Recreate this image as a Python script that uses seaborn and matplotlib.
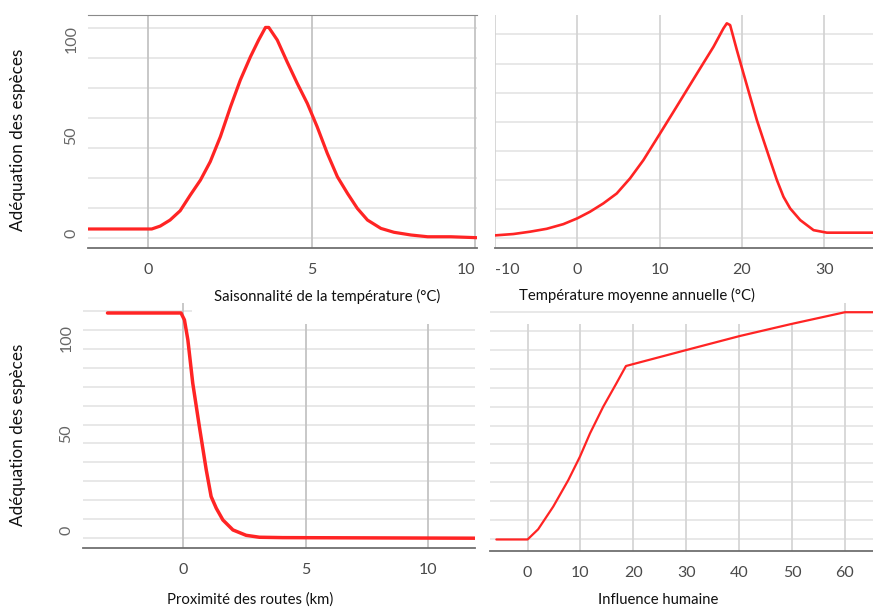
import numpy as np
import pandas as pd
import matplotlib
matplotlib.use("Agg")
import matplotlib.pyplot as plt
import seaborn as sns

# ---------------- data ----------------
ts_x = [-1.83, 0.11, 0.37, 0.67, 0.98, 1.29, 1.60, 1.90, 2.21, 2.52, 2.82, 3.13, 3.38, 3.59, 3.69,
        3.95, 4.25, 4.56, 4.87, 5.17, 5.48, 5.79, 6.10, 6.40, 6.71, 7.12, 7.52, 8.04, 8.55, 9.26, 10.08]
ts_y = [2.1, 2.1, 3.6, 6.7, 11.5, 19.6, 27.3, 36.8, 49.7, 65.1, 78.9, 90.9, 99.5, 106.0, 106.0,
        99.5, 88.3, 77.2, 66.8, 54.8, 41.1, 29.0, 20.4, 12.7, 6.7, 2.4, 0.4, -1.0, -1.9, -1.9, -2.4]

tm_x = [-10.0, -7.77, -5.75, -3.72, -1.7, 0.0, 1.54, 3.16, 4.78, 6.4, 8.02, 10.05, 11.67, 13.29,
        14.91, 16.53, 17.74, 18.15, 18.55, 19.37, 20.17, 20.98, 21.8, 22.6, 23.41, 24.23, 25.03,
        25.84, 27.06, 28.68, 30.3, 35.9]
tm_y = [-1.2, -0.5, 0.7, 2.2, 4.6, 7.6, 11.0, 15.3, 20.4, 28.2, 37.6, 51.4, 62.5, 73.7,
        84.9, 96.0, 105.5, 108.1, 107.2, 94.3, 82.3, 70.3, 58.2, 47.9, 37.6, 27.3, 18.7,
        12.7, 6.7, 1.5, 0.2, 0.2]

rd_x = [-3.1, -0.1, 0.04, 0.18, 0.38, 0.65, 0.93, 1.13, 1.34, 1.61, 2.02, 2.56, 3.1, 4.06, 11.9]
rd_y = [113.0, 113.0, 109.4, 99.0, 76.4, 53.8, 31.3, 17.4, 11.3, 5.2, 0.0, -2.8, -3.8, -4.0, -4.3]

hi_x = [-5.9, 0.0, 2.0, 4.85, 7.7, 9.9, 11.8, 14.3, 16.8, 18.6, 30.05, 40.1, 49.9, 60.0, 65.3]
hi_y = [-4.9, -4.9, 0.4, 12.2, 26.0, 38.2, 50.3, 64.2, 76.4, 85.4, 93.75, 101.0, 107.3, 113.4, 113.4]

ylabel_txt = "Adéquation des espèces"
xlabels = ["Saisonnalité de la température (°C)", "Température moyenne annuelle (°C)",
           "Proximité des routes (km)", "Influence humaine"]
xticks_ts = [0, 5, 10]
xticks_tm = [-10, 0, 10, 20, 30]
xticks_rd = [0, 5, 10]
xticks_hi = [0, 10, 20, 30, 40, 50, 60]
yticks = [0, 50, 100]

# ---------------- style ----------------
sns.set_style("white")
plt.rcParams['font.family'] = ['Lato', 'DejaVu Sans']
plt.rcParams['axes.unicode_minus'] = False

W, H = 873, 608
fig = plt.figure(figsize=(W / 100, H / 100), dpi=100)

RED = "#ff2424"
TICKC = "#4a4a4a"


def px_axes(l, t, r, b):
    return fig.add_axes([l / W, 1 - b / H, (r - l) / W, (b - t) / H])


def style(ax, xlim, ylim, vgrid, vcolor, hstart, hstep, hn, vtop=None):
    ax.set_xlim(*xlim)
    ax.set_ylim(*ylim)
    for s in ["left", "right", "top"]:
        ax.spines[s].set_visible(False)
    ax.spines["bottom"].set_color("#6f6f6f")
    ax.spines["bottom"].set_linewidth(1.3)
    hvals = [hstart + i * hstep for i in range(hn)]
    ax.hlines(hvals, xlim[0], xlim[1], color="#e2e2e2", lw=1.1, zorder=0)
    top = ylim[1] if vtop is None else vtop
    ax.vlines(vgrid, ylim[0], top, color=vcolor, lw=1.3, zorder=0.5)
    ax.grid(False)
    ax.set_xticks(vgrid)
    ax.set_xticklabels([str(v) for v in vgrid])
    ax.tick_params(axis="x", direction="inout", length=3, width=1.3, color="#333333",
                   labelsize=11.5, labelcolor=TICKC, pad=9)


def line(ax, xs, ys, lw):
    df = pd.DataFrame({"x": xs, "y": ys})
    sns.lineplot(data=df, x="x", y="y", ax=ax, color=RED, lw=lw, estimator=None,
                 sort=False, legend=False, zorder=3)
    ax.set_xlabel("")
    ax.set_ylabel("")


def yt(ax):
    ax.set_yticks(yticks)
    ax.set_yticklabels([str(v) for v in yticks], rotation=90, va="center")
    ax.tick_params(axis="y", length=0, labelsize=11.5, labelcolor="#666666", pad=7)


# top-left
ax1 = px_axes(88, 15, 477, 248)
line(ax1, ts_x, ts_y, 2.3)
style(ax1, (-1.84, 10.06), (-7.7, 112.4), xticks_ts, "#c4c4c4", -2.6, 15.46, 8)
ax1.spines["top"].set_visible(True)
ax1.spines["top"].set_color("#8a8a8a")
ax1.get_xticklabels()[-1].set_ha("right")
yt(ax1)

# top-right
ax2 = px_axes(495, 15, 873, 248)
line(ax2, tm_x, tm_y, 1.9)
style(ax2, (-10.0, 35.9), (-7.7, 112.4), xticks_tm, "#d4d4d4", -2.6, 15.0, 8)
ax2.get_xticklabels()[0].set_ha("left")
ax2.set_yticks([])

# bottom-left
ax3 = px_axes(83, 303, 475, 548)
line(ax3, rd_x, rd_y, 2.5)
style(ax3, (-4.1, 11.9), (-9.4, 118.2), xticks_rd, "#c4c4c4", -4.2, 9.85, 12, vtop=107.3)
ax3.vlines([0], 107.3, 118.2, color="#c4c4c4", lw=1.3, zorder=0.5)
ax3.hlines([114.0], -4.1, 0.35, color="#e2e2e2", lw=1.1, zorder=0)
yt(ax3)

# bottom-right
ax4 = px_axes(490, 303, 873, 551)
line(ax4, hi_x, hi_y, 1.6)
style(ax4, (-7.1, 65.3), (-10.9, 118.2), xticks_hi, "#d6d6d6", -4.7, 9.85, 13, vtop=107.3)
ax4.vlines([60], 107.3, 118.2, color="#d6d6d6", lw=1.3, zorder=0.5)
ax4.set_yticks([])


def ftxt(x, y, s, **kw):
    fig.text(x / W, 1 - y / H, s, ha="center", va="center", **kw)


ftxt(327, 296, xlabels[0], fontsize=10.7, color="#111111")
ftxt(637, 295, xlabels[1], fontsize=10.7, color="#111111")
ftxt(250, 600, xlabels[2], fontsize=10.7, color="#111111")
ftxt(658, 600, xlabels[3], fontsize=10.7, color="#111111")
ftxt(18, 140, ylabel_txt, fontsize=12.3, rotation=90, color="#111111")
ftxt(18, 435, ylabel_txt, fontsize=12.3, rotation=90, color="#111111")

fig.savefig("out.png", dpi=100, facecolor="white")
